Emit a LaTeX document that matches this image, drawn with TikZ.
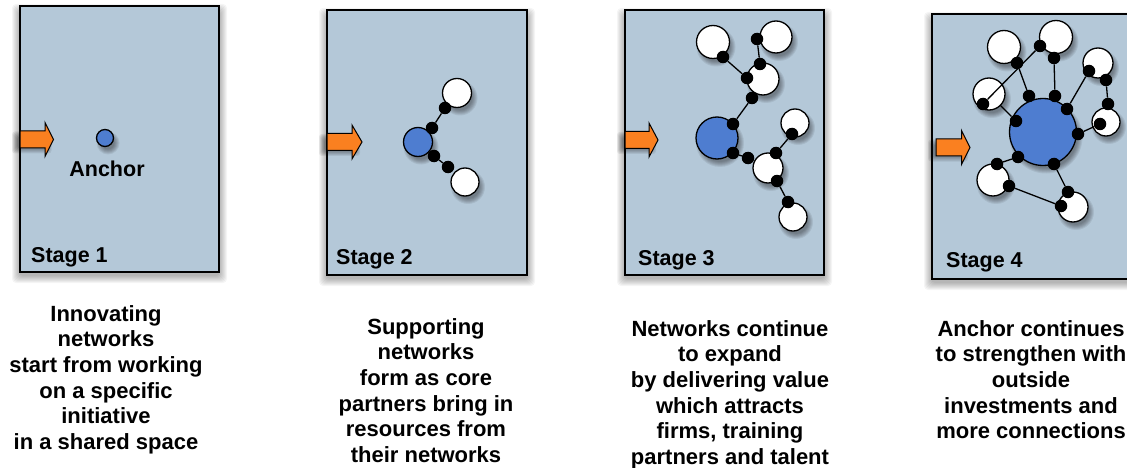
\documentclass[tikz,border=0pt]{standalone}
\usepackage{fontspec}
\setmainfont{Liberation Sans}
\definecolor{panelfill}{RGB}{180,200,216}
\definecolor{hubblue}{RGB}{78,125,208}
\definecolor{arroworange}{RGB}{250,128,32}
% soft shadow of a panel: x1 y1 x2 y2 (y grows downwards)
\newcommand{\panelshadow}[4]{%
  \foreach \k in {0,...,7}{\fill[black,opacity=0.04,rounded corners=4pt] (#1-8+\k,#2-2+\k) rectangle (#3+8-\k,#4+11-\k);}}
% soft shadow of a circle: x y r
\newcommand{\ballshadow}[3]{%
  \foreach \k in {0,...,5}{\fill[black,opacity=0.07] (#1+3,#2+5) circle [radius={(#3+3-\k)*1pt}];}}
% orange arrow: x y length headlength
\newcommand{\orangearrow}[4]{%
  \foreach \k in {0,...,5}{\fill[black,opacity=0.07,rounded corners=3pt] (#1-8+\k,#2-8+\k) rectangle (#1+#3-2-\k,#2+14-\k);}
  \draw[arrowbody] (#1,#2-8.5) -- (#1+#3-#4,#2-8.5) -- (#1+#3-#4,#2-17) -- (#1+#3,#2) -- (#1+#3-#4,#2+17) -- (#1+#3-#4,#2+8.5) -- (#1,#2+8.5) -- cycle;}
\begin{document}
\begin{tikzpicture}[x=1pt,y=-1pt,
  panel/.style={draw=black,line width=1.3pt,fill=panelfill},
  hub/.style={circle,draw=black,line width=1.3pt,fill=hubblue,inner sep=0pt},
  partner/.style={circle,draw=black,line width=1.3pt,fill=white,inner sep=0pt},
  joint/.style={circle,fill=black,inner sep=0pt,minimum size=12.5pt},
  link/.style={draw=black,line width=1.3pt},
  arrowbody/.style={draw=black,line width=1pt,fill=arroworange,line join=miter},
  stagelabel/.style={font=\bfseries\fontsize{21.5}{24}\selectfont,inner sep=0pt,anchor=base west},
  caption/.style={font=\bfseries\fontsize{22}{25.7}\selectfont,align=center,inner sep=0pt,anchor=north}]
\useasboundingbox (0,0) rectangle (1127,468);
\fill[white] (0,0) rectangle (1127,468);

% ---------- panels ----------
\panelshadow{20}{6}{219}{272}
\panelshadow{327}{10}{527}{275}
\panelshadow{625}{10}{824}{275}
\panelshadow{932}{14}{1140}{279}
\draw[panel] (20,6) rectangle (219,272);
\draw[panel] (327,10) rectangle (527,275);
\draw[panel] (625,10) rectangle (824,275);
\draw[panel] (932,14) rectangle (1140,279);

% ---------- arrows ----------
\orangearrow{20}{139.5}{33.5}{8.5}
\orangearrow{327}{142}{35}{10}
\orangearrow{625}{140}{33}{9}
\orangearrow{936}{147.5}{34}{8.5}

% ---------- stage 1 ----------
\ballshadow{105}{138}{8.5}
\node[hub,minimum size=17] (h1) at (105,138) {};
\node[font=\bfseries\fontsize{21.5}{24}\selectfont,inner sep=0pt,anchor=base] (anchorlbl) at (107,176) {Anchor};
\node[stagelabel] (s1) at (31,262) {Stage 1};

% ---------- stage 2 ----------
\ballshadow{418}{142}{14.5}
\ballshadow{457}{93}{14.5}
\ballshadow{465}{182}{14}
\node[hub,minimum size=29] (h2) at (418,142) {};
\node[partner,minimum size=29] (p2a) at (457,93) {};
\node[partner,minimum size=28] (p2b) at (465,182) {};
\node[joint] (j2a) at (432,128) {};
\node[joint] (j2b) at (445,108) {};
\node[joint] (j2c) at (434,156) {};
\node[joint] (j2d) at (448,167) {};
\draw[link] (j2a) -- (j2b);
\draw[link] (j2c) -- (j2d);
\node[stagelabel] (s2) at (336,264) {Stage 2};

% ---------- stage 3 ----------
\ballshadow{717}{138}{21}
\ballshadow{713}{42}{16.5}
\ballshadow{776}{37}{16}
\ballshadow{763}{79}{16}
\ballshadow{795}{123}{14}
\ballshadow{768}{168}{15}
\ballshadow{793}{217}{14}
\node[hub,minimum size=42] (h3) at (717,138) {};
\node[partner,minimum size=33] (p3a) at (713,42) {};
\node[partner,minimum size=32] (p3b) at (776,37) {};
\node[partner,minimum size=32] (p3c) at (763,79) {};
\node[partner,minimum size=28] (p3d) at (795,123) {};
\node[partner,minimum size=30] (p3e) at (768,168) {};
\node[partner,minimum size=28] (p3f) at (793,217) {};
\node[joint] (j3a) at (723,57) {};
\node[joint] (j3b) at (747,78) {};
\node[joint] (j3c) at (760,64) {};
\node[joint] (j3d) at (757,39) {};
\node[joint] (j3e) at (752,98) {};
\node[joint] (j3f) at (733,124) {};
\node[joint] (j3g) at (733,153) {};
\node[joint] (j3h) at (748,158) {};
\node[joint] (j3i) at (776,153) {};
\node[joint] (j3j) at (792,134) {};
\node[joint] (j3k) at (777,181) {};
\node[joint] (j3l) at (788,202) {};
\draw[link] (j3a) -- (j3b);
\draw[link] (j3c) -- (j3d);
\draw[link] (j3e) -- (j3f);
\draw[link] (j3g) -- (j3h);
\draw[link] (j3i) -- (j3j);
\draw[link] (j3k) -- (j3l);
\node[stagelabel] (s3) at (638,265) {Stage 3};

% ---------- stage 4 ----------
\ballshadow{1043}{132}{33.5}
\ballshadow{1004}{47}{16.5}
\ballshadow{1056}{37}{16.5}
\ballshadow{1098}{63}{15}
\ballshadow{989}{94}{16}
\ballshadow{1106}{122}{14}
\ballshadow{993}{180}{16}
\ballshadow{1073}{207}{15}
\node[hub,minimum size=67] (h4) at (1043,132) {};
\node[partner,minimum size=33] (w1) at (1004,47) {};
\node[partner,minimum size=33] (w2) at (1056,37) {};
\node[partner,minimum size=30] (w3) at (1098,63) {};
\node[partner,minimum size=32] (w4) at (989,94) {};
\node[partner,minimum size=28] (w5) at (1106,122) {};
\node[partner,minimum size=32] (w6) at (993,180) {};
\node[partner,minimum size=30] (w7) at (1073,207) {};
\node[joint] (k1) at (1017,63) {};
\node[joint] (k2) at (1029,96) {};
\node[joint] (k3) at (1040,46) {};
\node[joint] (k4) at (983,104) {};
\node[joint] (k5) at (1054,58) {};
\node[joint] (k6) at (1055,96) {};
\node[joint] (k7) at (1089,71) {};
\node[joint] (k8) at (1067,109) {};
\node[joint] (k9) at (1106,80) {};
\node[joint] (k10) at (1108,104) {};
\node[joint] (k11) at (1100,124) {};
\node[joint] (k12) at (1078,134) {};
\node[joint] (k13) at (1016,121) {};
\node[joint] (k14) at (1018,157) {};
\node[joint] (k15) at (997,164) {};
\node[joint] (k16) at (1009,186) {};
\node[joint] (k17) at (1054,164) {};
\node[joint] (k18) at (1068,192) {};
\node[joint] (k19) at (1061,206) {};
\draw[link] (k1) -- (k2);
\draw[link] (k3) -- (k4);
\draw[link] (k5) -- (k6);
\draw[link] (k7) -- (k8);
\draw[link] (k9) -- (k10);
\draw[link] (k11) -- (k12);
\draw[link] (k13) -- (w4);
\draw[link] (k14) -- (k15);
\draw[link] (k16) -- (k19);
\draw[link] (k17) -- (k18);
\node[stagelabel] (s4) at (946,267) {Stage 4};

% ---------- captions ----------
\node[caption] (c1) at (106,305) {Innovating\\networks\\start from working\\on a specific\\initiative\\in a shared space};
\node[caption] (c2) at (426,318) {Supporting\\networks\\form as core\\partners bring in\\resources from\\their networks};
\node[caption] (c3) at (730,320) {Networks continue\\to expand\\by delivering value\\which attracts\\firms, training\\partners and talent};
\node[caption] (c4) at (1031,320) {Anchor continues\\to strengthen with\\outside\\investments and\\more connections};
\end{tikzpicture}
\end{document}
